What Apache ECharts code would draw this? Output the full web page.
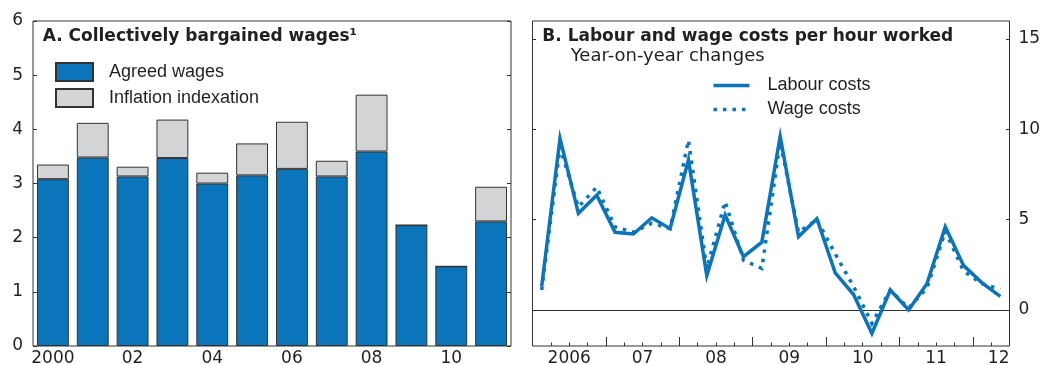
<!DOCTYPE html>
<html>
<head>
<meta charset="utf-8">
<script src="https://cdn.jsdelivr.net/npm/echarts@6/dist/echarts.min.js"></script>
<style>
  html, body { margin: 0; padding: 0; background: #ffffff; }
  #chart { width: 1040px; height: 365px; }
</style>
</head>
<body>
<div id="chart"></div>
<script>
// Panel A: collectively bargained wages, annual, per cent
const years = ['2000', '2001', '2002', '2003', '2004', '2005', '2006', '2007', '2008', '2009', '2010', '2011'];
const agreedWages = [3.08, 3.48, 3.13, 3.47, 3.00, 3.15, 3.27, 3.13, 3.59, 2.23, 1.47, 2.30];
const inflationIndexation = [0.27, 0.64, 0.18, 0.71, 0.20, 0.59, 0.87, 0.29, 1.05, 0, 0, 0.64];

// Panel B: labour and wage costs per hour worked, quarterly, year-on-year changes
const quarters = [
  '2006Q1', '2006Q2', '2006Q3', '2006Q4', '2007Q1', '2007Q2', '2007Q3', '2007Q4',
  '2008Q1', '2008Q2', '2008Q3', '2008Q4', '2009Q1', '2009Q2', '2009Q3', '2009Q4',
  '2010Q1', '2010Q2', '2010Q3', '2010Q4', '2011Q1', '2011Q2', '2011Q3', '2011Q4',
  '2012Q1', '2012Q2'
];
const labourCosts = [1.3, 9.5, 5.35, 6.35, 4.3, 4.2, 5.1, 4.5, 8.3, 1.9, 5.25, 2.95, 3.75, 9.6, 4.05, 5.05, 2.05, 0.85, -1.3, 1.1, 0.0, 1.45, 4.6, 2.45, 1.5, 0.75];
const wageCosts = [1.1, 9.0, 5.7, 6.8, 4.6, 4.3, 4.8, 4.5, 9.4, 2.3, 6.0, 2.75, 2.3, 9.3, 4.3, 5.0, 3.1, 1.3, -0.75, 1.1, 0.1, 1.2, 4.35, 2.15, 1.45, 1.15];
const yearLabels = ['2006', '07', '08', '09', '10', '11', '12'];

const BLUE = '#0a75bb';
const GREY = '#d3d4d6';
const INK = '#231f20';
const FRAME = '#333333';
const SANS = '"Liberation Sans", Arial, Helvetica, sans-serif';
const WIDE = '"DejaVu Sans", Verdana, sans-serif';

// year labels sit mid-year; a year cut off by the axis end is pinned to that end
const nQ = quarters.length;
const yearPos = yearLabels.map((_, i) => Math.min(4 * i + 2, nQ));
const minorTicks = [];
const majorTicks = [];
for (let q = 1; q < nQ; q++) (q % 4 === 0 ? majorTicks : minorTicks).push(q);

const tickLine = { color: FRAME, width: 1 };
const tickFont = { fontFamily: WIDE, fontSize: 17, color: INK };
const legendFont = { fontFamily: SANS, fontSize: 18, color: INK };

const chart = echarts.init(document.getElementById('chart'), null, { renderer: 'canvas' });

chart.setOption({
  animation: false,
  backgroundColor: '#ffffff',
  textStyle: { fontFamily: SANS },
  grid: [
    { left: 33, top: 21, width: 478, height: 325, outerBoundsMode: 'none', show: true, borderColor: FRAME, borderWidth: 1, backgroundColor: 'transparent' },
    { left: 532.5, top: 21, width: 477, height: 325, outerBoundsMode: 'none', show: true, borderColor: FRAME, borderWidth: 1, backgroundColor: 'transparent' }
  ],
  graphic: [
    { type: 'text', style: { x: 42.7, y: 36.7, verticalAlign: 'middle', text: 'A. Collectively bargained wages\u00b9', font: 'bold 17px ' + WIDE, fill: INK } },
    { type: 'text', style: { x: 542.3, y: 36.2, verticalAlign: 'middle', text: 'B. Labour and wage costs per hour worked', font: 'bold 17px ' + WIDE, fill: INK } },
    { type: 'text', style: { x: 570.7, y: 56.3, verticalAlign: 'middle', text: 'Year-on-year changes', font: '18px ' + WIDE, fill: INK } }
  ],
  legend: [
    {
      data: ['Agreed wages', 'Inflation indexation'],
      orient: 'vertical', left: 55, top: 62, padding: 0,
      itemWidth: 37, itemHeight: 18, itemGap: 6, icon: 'rect',
      selectedMode: false,
      textStyle: Object.assign({ padding: [0, 0, 0, 11] }, legendFont)
    },
    {
      data: ['Labour costs', 'Wage costs'],
      orient: 'vertical', left: 711.7, top: 76.5, padding: 0,
      itemWidth: 36, itemHeight: 17, itemGap: 6,
      selectedMode: false,
      // plain line keys, no point marker
      itemStyle: { color: 'transparent', borderColor: 'transparent', borderWidth: 0 },
      lineStyle: { width: 3.5 },
      textStyle: Object.assign({ padding: [0, 0, 0, 13] }, legendFont)
    }
  ],
  xAxis: [
    {
      gridIndex: 0, type: 'category', data: years,
      axisLine: { show: false }, axisTick: { show: false },
      axisLabel: Object.assign({ interval: 1, margin: 4, formatter: (v, i) => (i === 0 ? v : v.slice(2)) }, tickFont)
    },
    {
      // quarterly categories; its axis line doubles as the zero line
      gridIndex: 1, type: 'category', data: quarters, boundaryGap: true,
      axisLine: { show: true, onZero: true, lineStyle: tickLine },
      axisTick: { show: false }, axisLabel: { show: false }
    },
    {
      gridIndex: 1, type: 'value', min: 0, max: nQ, position: 'bottom',
      axisLine: { show: false, onZero: false }, splitLine: { show: false },
      axisTick: { show: true, inside: true, length: 3.5, customValues: minorTicks, lineStyle: tickLine },
      axisLabel: Object.assign({
        margin: 4, customValues: yearPos, alignMaxLabel: 'right',
        formatter: v => { const i = yearPos.indexOf(v); return i >= 0 ? yearLabels[i] : ''; }
      }, tickFont)
    },
    {
      gridIndex: 1, type: 'value', min: 0, max: nQ, position: 'bottom',
      axisLine: { show: false, onZero: false }, splitLine: { show: false },
      axisTick: { show: true, inside: true, length: 9, customValues: majorTicks, lineStyle: tickLine },
      axisLabel: { show: false }
    }
  ],
  yAxis: [
    {
      gridIndex: 0, type: 'value', min: 0, max: 6, interval: 1, position: 'left',
      axisLine: { show: false, onZero: false }, splitLine: { show: false },
      axisTick: { show: true, inside: true, length: 4, lineStyle: tickLine },
      axisLabel: Object.assign({ margin: 10 }, tickFont)
    },
    {
      gridIndex: 0, type: 'value', min: 0, max: 6, interval: 1, position: 'right',
      axisLine: { show: false, onZero: false }, splitLine: { show: false },
      axisTick: { show: true, inside: true, length: 4, lineStyle: tickLine },
      axisLabel: { show: false }
    },
    {
      gridIndex: 1, type: 'value', min: -2, max: 16, position: 'right',
      axisLine: { show: false, onZero: false }, splitLine: { show: false },
      axisTick: { show: true, inside: true, length: 3.5, customValues: [5, 10, 15], lineStyle: tickLine },
      axisLabel: Object.assign({ margin: 9, customValues: [0, 5, 10, 15] }, tickFont)
    },
    {
      gridIndex: 1, type: 'value', min: -2, max: 16, position: 'left',
      axisLine: { show: false, onZero: false }, splitLine: { show: false },
      axisTick: { show: true, inside: true, length: 3.5, customValues: [5, 10, 15], lineStyle: tickLine },
      axisLabel: { show: false }
    }
  ],
  series: [
    {
      name: 'Agreed wages', type: 'bar', stack: 'wages', xAxisIndex: 0, yAxisIndex: 0,
      data: agreedWages, barWidth: '80%',
      itemStyle: { color: BLUE, borderColor: FRAME, borderWidth: 1 }
    },
    {
      name: 'Inflation indexation', type: 'bar', stack: 'wages', xAxisIndex: 0, yAxisIndex: 0,
      data: inflationIndexation, barWidth: '80%',
      itemStyle: { color: GREY, borderColor: FRAME, borderWidth: 1 }
    },
    {
      name: 'Labour costs', type: 'line', xAxisIndex: 1, yAxisIndex: 2,
      data: labourCosts, symbol: 'none', z: 3,
      itemStyle: { color: BLUE },
      lineStyle: { color: BLUE, width: 3.5, join: 'miter', miterLimit: 8 }
    },
    {
      name: 'Wage costs', type: 'line', xAxisIndex: 1, yAxisIndex: 2,
      data: wageCosts, symbol: 'none', z: 4,
      itemStyle: { color: BLUE },
      lineStyle: { color: BLUE, width: 3.5, type: [3.5, 6], join: 'miter', miterLimit: 8 }
    }
  ]
});
</script>
</body>
</html>
